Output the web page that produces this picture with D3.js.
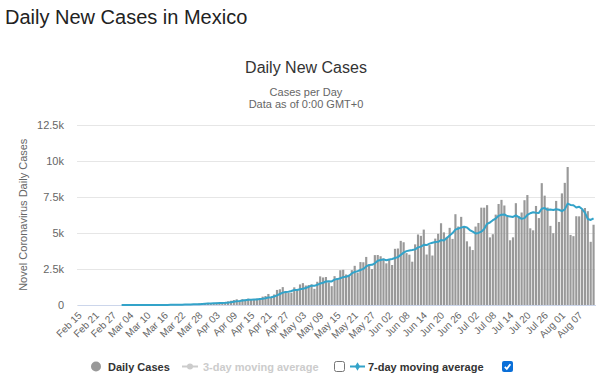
<!DOCTYPE html>
<html>
<head>
<meta charset="utf-8">
<script src="https://cdn.jsdelivr.net/npm/d3@7"></script>
<style>
  html, body { margin: 0; padding: 0; background: #fff; }
  svg { display: block; }
</style>
</head>
<body>
<svg id="chart" width="600" height="378"></svg>
<script>
// ---------------- data ----------------
const startDate = "2020-02-15";
const dayCount = 180;

const tickLabels = ["Feb 15","Feb 21","Feb 27","Mar 04","Mar 10","Mar 16","Mar 22","Mar 28",
  "Apr 03","Apr 09","Apr 15","Apr 21","Apr 27","May 03","May 09","May 15","May 21","May 27",
  "Jun 02","Jun 08","Jun 14","Jun 20","Jun 26","Jul 02","Jul 08","Jul 14","Jul 20","Jul 26",
  "Aug 01","Aug 07"];

const yTicks = [0, 2500, 5000, 7500, 10000, 12500];
const yTickLabels = ["0", "2.5k", "5k", "7.5k", "10k", "12.5k"];

const dailyCases = [
  0,0,0,0,0,0,0,0,0,0,0,0,0,0,0,
  1,3,1,0,0,0,0,
  1,1,0,0,0,4,1,
  14,15,12,29,11,25,46,
  39,48,65,51,38,70,110,
  132,131,145,101,121,163,132,
  178,202,253,296,346,396,260,
  403,375,442,353,385,448,450,
  578,622,764,511,729,1043,1089,
  1239,970,835,852,1223,1047,1425,
  1515,1349,1383,1434,1120,1609,1982,
  1906,1938,1562,1305,1997,1862,2409,
  2437,2112,2075,2414,2713,2248,2973,
  2960,3329,2764,2485,3455,3463,3377,
  3227,2885,3152,2771,3891,3912,4442,
  4346,3593,3484,2999,4199,4883,4790,
  5222,3494,4147,3427,4599,4930,5662,
  5030,4717,5343,4577,6288,5437,6104,
  5441,4410,4050,3805,5432,5681,6741,
  6740,6914,4683,4902,6258,6995,7280,
  6891,6094,4482,4685,7051,6149,6406,
  7257,7615,5311,5172,6859,6019,8438,
  7573,6751,5480,4973,7208,5752,7730,
  8458,9556,4853,4767,6148,6139,6590,
  6717,6495,4376,5558
];

const movingAvg7 = [
  null,null,null,null,null,null,null,null,null,null,null,null,null,null,null,
  0.1,0.6,0.7,0.7,0.7,0.7,0.7,
  0.7,0.4,0.3,0.3,0.3,0.9,1,
  2.9,4.9,6.6,10.7,12.3,15.3,21.7,
  25.3,30,37.6,40.7,44.6,51,60.1,
  73.4,85.3,96.7,103.9,115.7,129,132.1,
  138.7,148.9,164.3,192.1,224.3,257.6,275.9,
  308,332.7,359.7,367.9,373.4,380.9,408,
  433,468.3,514.3,536.9,586,671,762.3,
  856.7,906.4,916.6,965.3,1035.9,1036.4,1084.4,
  1123.9,1178,1256.3,1339.4,1324.7,1405,1484.6,
  1540.4,1624.6,1650.1,1631.7,1757,1793.1,1854.1,
  1930,1954.9,2028.1,2186.6,2288.9,2344,2424.6,
  2499.3,2673.1,2771.6,2781.7,2887.7,3061.3,3119,
  3157.1,3093.7,3149.1,3190,3252.3,3316.4,3468.6,
  3628.4,3729.6,3777,3809.6,3853.6,3992.3,4042,
  4167.1,4153,4247.7,4308.9,4366,4372.7,4497.3,
  4469.9,4644.6,4815.4,4979.7,5221,5293.4,5356.6,
  5415.3,5371.4,5186.7,5076.4,4954.1,4989,5080,
  5265.6,5623.3,5713.7,5870.4,5988.4,6176.1,6253.1,
  6274.7,6157.6,6128.9,6097.9,6211.1,6090.3,5965.4,
  6017.7,6235,6353.4,6423,6395.6,6377,6667.3,
  6712.4,6589,6613.1,6584.7,6634.6,6596.4,6495.3,
  6621.7,7022.4,6932.9,6903.4,6752,6807.3,6644.4,
  6395.7,5958.4,5890.3,6003.3
];

// ---------------- chart ----------------
const fmt = d3.utcFormat("%b %d");
const start = new Date(startDate + "T00:00:00Z");
const categories = d3.range(dayCount).map(i => fmt(d3.utcDay.offset(start, i)));

const svg = d3.select("#chart");
const plot = { left: 77, right: 595, top: 124.5, bottom: 305 };

const x = d3.scaleBand().domain(categories).range([plot.left, plot.right]).paddingInner(0.25).paddingOuter(0.125);
const y = d3.scaleLinear().domain([0, 12500]).range([plot.bottom, plot.top]);

// header
svg.append("text").attr("x", 5).attr("y", 24)
  .attr("font-family", "Liberation Sans, Arial, sans-serif").attr("font-size", 20)
  .attr("fill", "#222").text("Daily New Cases in Mexico");

// titles
const titleFont = "Liberation Sans, Arial, sans-serif";
svg.append("text").attr("x", 306).attr("y", 73).attr("text-anchor", "middle")
  .attr("font-family", titleFont).attr("font-size", 16).attr("fill", "#333").text("Daily New Cases");
svg.append("text").attr("x", 306).attr("y", 96).attr("text-anchor", "middle")
  .attr("font-family", titleFont).attr("font-size", 11).attr("fill", "#666").text("Cases per Day");
svg.append("text").attr("x", 306).attr("y", 108).attr("text-anchor", "middle")
  .attr("font-family", titleFont).attr("font-size", 11).attr("fill", "#666").text("Data as of 0:00 GMT+0");

// gridlines + y axis
const yAxis = d3.axisLeft(y).tickValues(yTicks)
  .tickFormat((d, i) => yTickLabels[i])
  .tickSize(-(plot.right - plot.left)).tickPadding(13);
const gy = svg.append("g").attr("transform", `translate(${plot.left},0)`).call(yAxis);
gy.select(".domain").remove();
gy.selectAll(".tick line").attr("stroke", "#e6e6e6").attr("stroke-width", 1)
  .attr("shape-rendering", "crispEdges");
gy.selectAll(".tick text").attr("font-family", titleFont).attr("font-size", 11).attr("fill", "#666");

// y-axis title
svg.append("text").attr("transform", `translate(27,${(plot.top + plot.bottom) / 2}) rotate(-90)`)
  .attr("text-anchor", "middle").attr("font-family", titleFont).attr("font-size", 11)
  .attr("fill", "#666").text("Novel Coronavirus Daily Cases");

// bars
svg.append("g").selectAll("rect").data(dailyCases).join("rect")
  .attr("x", (d, i) => x(categories[i]))
  .attr("width", x.bandwidth())
  .attr("y", d => y(d))
  .attr("height", d => y(0) - y(d))
  .attr("fill", "#999");

// x axis
const xAxis = d3.axisBottom(x).tickValues(tickLabels).tickSize(0).tickPadding(0);
const gx = svg.append("g").attr("transform", `translate(0,${plot.bottom})`).call(xAxis);
gx.select(".domain").attr("stroke", "#ccd6eb").attr("shape-rendering", "crispEdges");
gx.selectAll(".tick text")
  .attr("font-family", titleFont).attr("font-size", 10).attr("fill", "#666")
  .attr("text-anchor", "end").attr("dy", null).attr("y", 0)
  .attr("transform", "translate(4,11) rotate(-45)");

// 7-day moving average line
const line = d3.line()
  .defined(d => d != null)
  .x((d, i) => x(categories[i]) + x.bandwidth() / 2)
  .y(d => y(d));
svg.append("path").datum(movingAvg7).attr("d", line)
  .attr("fill", "none").attr("stroke", "#33a3c9").attr("stroke-width", 2)
  .attr("stroke-linejoin", "round");

// legend
const lg = svg.append("g").attr("font-family", titleFont).attr("font-size", 11).attr("font-weight", "bold");
const ly = 366.5;
lg.append("circle").attr("cx", 96).attr("cy", ly).attr("r", 5).attr("fill", "#999");
lg.append("text").attr("x", 108).attr("y", ly + 4).attr("fill", "#333").text("Daily Cases");

lg.append("line").attr("x1", 182).attr("x2", 198).attr("y1", ly).attr("y2", ly)
  .attr("stroke", "#ccc").attr("stroke-width", 2);
lg.append("circle").attr("cx", 190).attr("cy", ly).attr("r", 3).attr("fill", "#ccc");
lg.append("text").attr("x", 203).attr("y", ly + 4).attr("fill", "#ccc").text("3-day moving average");
lg.append("rect").attr("x", 334.5).attr("y", 361.5).attr("width", 10).attr("height", 10).attr("rx", 2)
  .attr("fill", "#fff").attr("stroke", "#767676").attr("stroke-width", 1);

lg.append("line").attr("x1", 350).attr("x2", 365).attr("y1", ly).attr("y2", ly)
  .attr("stroke", "#33a3c9").attr("stroke-width", 2);
lg.append("path").attr("d", d3.symbol(d3.symbolDiamond, 22)()).attr("transform", `translate(357.5,${ly})`)
  .attr("fill", "#33a3c9");
lg.append("text").attr("x", 368).attr("y", ly + 4).attr("fill", "#333").text("7-day moving average");
lg.append("rect").attr("x", 502).attr("y", 361).attr("width", 11).attr("height", 11).attr("rx", 2)
  .attr("fill", "#0a6fd8");
lg.append("path").attr("d", "M504.8,366.8 L506.8,368.8 L510.4,364.2")
  .attr("fill", "none").attr("stroke", "#fff").attr("stroke-width", 1.8);
</script>
</body>
</html>
